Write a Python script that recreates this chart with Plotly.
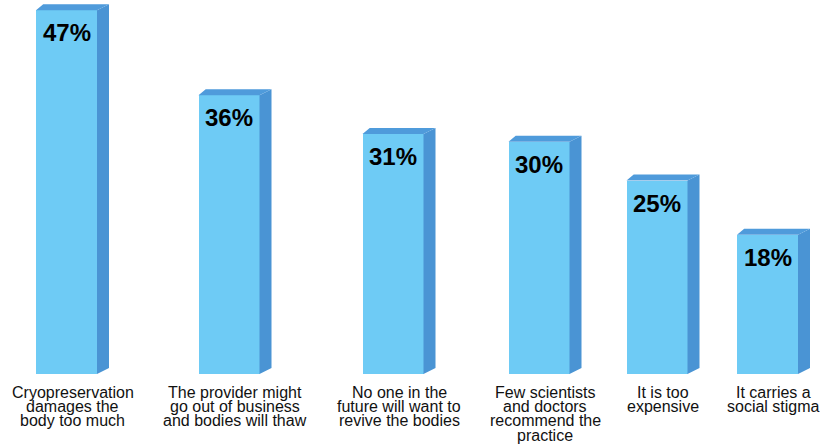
import plotly.graph_objects as go

# Survey answers and their shares (percent)
categories = [
    "Cryopreservation<br>damages the<br>body too much",
    "The provider might<br>go out of business<br>and bodies will thaw",
    "No one in the<br>future will want to<br>revive the bodies",
    "Few scientists<br>and doctors<br>recommend the<br>practice",
    "It is too<br>expensive",
    "It carries a<br>social stigma",
]
values = [47, 36, 31, 30, 25, 18]
value_labels = ["47%", "36%", "31%", "30%", "25%", "18%"]

# Layout: bar centres along a 0..824 x axis, sizes in pixels
bar_x = [66.5, 229, 393, 539, 657, 767.5]
BAR_W = 61
W, H = 824, 446
BOTTOM = 72
PX_PER_UNIT = 7.74
Y_MAX = (H - BOTTOM) / PX_PER_UNIT
DX = 12                     # side-face depth, px
DY = 6 / PX_PER_UNIT        # side-face rise, data units

FRONT = "#6ecbf5"
SIDE = "#4a94d4"
TOP = "#4f9bdb"
FONT = "Liberation Sans, Arial, Helvetica, sans-serif"

fig = go.Figure()

# side and top faces of each bar, built from the bar values
side_x, side_y, top_x, top_y = [], [], [], []
for x, v in zip(bar_x, values):
    xl, xr = x - BAR_W / 2, x + BAR_W / 2
    side_x += [xr, xr, xr + DX, xr + DX, xr, None]
    side_y += [0, v, v + DY, DY, 0, None]
    top_x += [xl, xl + DX * 0.6, xr + DX, xr, xl, None]
    top_y += [v, v + DY, v + DY, v, v, None]

fig.add_trace(go.Scatter(x=side_x, y=side_y, mode="lines", fill="toself",
                         fillcolor=SIDE, line=dict(width=0, color=SIDE),
                         hoverinfo="skip", showlegend=False, cliponaxis=False))
fig.add_trace(go.Scatter(x=top_x, y=top_y, mode="lines", fill="toself",
                         fillcolor=TOP, line=dict(width=0, color=TOP),
                         hoverinfo="skip", showlegend=False, cliponaxis=False))

# front faces
fig.add_trace(go.Bar(x=bar_x, y=values, width=BAR_W,
                     marker=dict(color=FRONT, line=dict(width=0)),
                     hoverinfo="skip", showlegend=False, cliponaxis=False))

annotations = []
# value labels inside the top of each bar
for x, v, t in zip(bar_x, values, value_labels):
    annotations.append(dict(x=x, y=v, xref="x", yref="y", text="<b>%s</b>" % t,
                            showarrow=False, yanchor="top", yshift=-7,
                            font=dict(family=FONT, size=24, color="#000000")))

# category labels below each bar, one annotation per line for tight leading
LINE_PITCH = 14.4
for x, cat in zip(bar_x, categories):
    for i, line in enumerate(cat.split("<br>")):
        annotations.append(dict(x=x + DX / 2, y=0, xref="x", yref="y", text=line,
                                showarrow=False, yanchor="middle",
                                yshift=-18 - LINE_PITCH * i,
                                font=dict(family=FONT, size=16, color="#111111")))

fig.update_layout(
    width=W, height=H,
    margin=dict(l=0, r=0, t=0, b=BOTTOM, pad=0),
    paper_bgcolor="white", plot_bgcolor="white",
    xaxis=dict(range=[0, W], visible=False, fixedrange=True),
    yaxis=dict(range=[0, Y_MAX], visible=False, fixedrange=True),
    annotations=annotations,
    bargap=0,
)

fig.write_html("out.html", config={"displayModeBar": False})
